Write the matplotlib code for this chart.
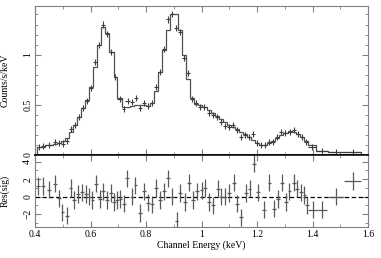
import numpy as np
import matplotlib
matplotlib.use("Agg")
import matplotlib.pyplot as plt
from matplotlib.ticker import MultipleLocator

plt.rcParams['font.family'] = ['Liberation Serif', 'DejaVu Serif']

# channel bin edges (keV)
bin_edges = [0.406, 0.420, 0.435, 0.464, 0.478, 0.493, 0.507, 0.522,
             0.537, 0.551, 0.566, 0.580, 0.595, 0.610, 0.624, 0.639, 0.653,
             0.668, 0.683, 0.697, 0.712, 0.726, 0.741, 0.756, 0.770, 0.785,
             0.799, 0.814, 0.829, 0.843, 0.858, 0.872, 0.887, 0.901, 0.916,
             0.930, 0.945, 0.960, 0.974, 0.989, 1.003, 1.018, 1.033, 1.047,
             1.062, 1.076, 1.091, 1.106, 1.120, 1.135, 1.149, 1.164, 1.179,
             1.193, 1.208, 1.222, 1.237, 1.252, 1.266, 1.281, 1.295, 1.310,
             1.325, 1.339, 1.354, 1.368, 1.383, 1.413, 1.455, 1.515, 1.575]

# model counts/s/keV per bin
model_counts = [0.083, 0.085, 0.100, 0.110, 0.120, 0.140, 0.170,
                0.230, 0.300, 0.380, 0.470, 0.550, 0.680, 0.880, 1.100, 1.280, 1.220,
                1.030, 0.780, 0.570, 0.480, 0.480, 0.490, 0.500, 0.500, 0.500, 0.490,
                0.520, 0.640, 0.830, 1.050, 1.250, 1.400, 1.400, 1.250, 1.000, 0.760,
                0.570, 0.510, 0.500, 0.480, 0.450, 0.420, 0.390, 0.360, 0.330, 0.300,
                0.280, 0.260, 0.230, 0.210, 0.180, 0.150, 0.120, 0.105, 0.100, 0.120,
                0.140, 0.170, 0.200, 0.220, 0.235, 0.230, 0.210, 0.180, 0.140,
                0.100, 0.043, 0.027, 0.033]

# observed counts/s/keV per bin
data_counts = [0.085, 0.088, 0.105, 0.130, 0.120, 0.115, 0.140,
               0.260, 0.300, 0.380, 0.470, 0.540, 0.670, 0.930, 1.100, 1.300, 1.210,
               1.030, 0.780, 0.560, 0.460, 0.540, 0.530, 0.570, 0.470, 0.520, 0.490,
               0.520, 0.680, 0.830, 1.060, 1.350, 1.400, 1.270, 1.230, 0.970, 0.820,
               0.560, 0.520, 0.480, 0.480, 0.420, 0.400, 0.380, 0.330, 0.290, 0.280,
               0.300, 0.250, 0.180, 0.200, 0.180, 0.210, 0.120, 0.100, 0.100, 0.130,
               0.130, 0.180, 0.230, 0.220, 0.230, 0.250, 0.210, 0.180, 0.130,
               0.080, 0.040, 0.027, 0.033]
data_err = 0.03

# residuals (sigma), narrow bins
res_energy = [0.412, 0.428, 0.451, 0.472, 0.487, 0.499, 0.514, 0.528, 0.541, 0.556,
              0.570, 0.583, 0.595, 0.607, 0.619, 0.634, 0.646, 0.660, 0.673, 0.685,
              0.696, 0.708, 0.720, 0.732, 0.748, 0.762, 0.778, 0.792, 0.807, 0.822,
              0.835, 0.849, 0.864, 0.879, 0.894, 0.910, 0.924, 0.940, 0.954,
              0.969, 0.984, 1.000, 1.014, 1.027, 1.041, 1.059, 1.071, 1.086, 1.099,
              1.116, 1.129, 1.143, 1.159, 1.173, 1.188, 1.203, 1.224, 1.245, 1.260,
              1.275, 1.290, 1.305, 1.317, 1.332, 1.345, 1.359, 1.371, 1.380]
res_value = [1.2, 1.2, 0.8, 1.5, -0.2, -1.8, -2.2, 1.0, -0.4, 0.3,
             0.5, 0.3, 0.0, -0.4, 1.5, -0.3, 0.6, -0.4, 0.4, -0.6,
             -0.4, -0.3, -0.8, 2.1, 0.0, 1.3, -1.9, 0.6, -0.7, -0.9,
             1.0, -0.4, 0.6, 2.1, 0.0, -2.8, 0.4, -0.6, 1.6,
             -0.4, 0.6, 0.7, 1.0, -0.6, -1.0, 0.9, 0.0, 0.0, 0.4,
             1.6, -0.8, -2.4, 0.4, 0.9, 3.8, 0.5, -1.5, 1.6, -1.4,
             -0.3, 1.6, -0.6, 0.6, 1.6, 0.9, 0.5, 0.2, -1.0]
# residuals, wide bins at high energy
res_wide_energy = [1.400, 1.436, 1.485, 1.545]
res_wide_half = [0.018, 0.018, 0.030, 0.030]
res_wide_value = [-1.5, -1.5, 0.0, 1.8]

xtick_vals = [0.4, 0.6, 0.8, 1.0, 1.2, 1.4, 1.6]
xtick_text = ['0.4', '0.6', '0.8', '1', '1.2', '1.4', '1.6']

edges = np.array(bin_edges)
centers = (edges[:-1] + edges[1:]) / 2
halfw = (edges[1:] - edges[:-1]) / 2

frame = '#808080'
fig = plt.figure(figsize=(3.81, 2.58), dpi=100)
ax1 = fig.add_axes([0.0919, 0.399, 0.874, 0.578])
ax2 = fig.add_axes([0.0919, 0.120, 0.874, 0.279], sharex=ax1)

ax1.stairs(model_counts, edges, color='#505050', lw=0.9)
ax1.errorbar(centers, data_counts, xerr=halfw, yerr=data_err, fmt='none',
             ecolor='#3c3c3c', elinewidth=0.8)

ax2.axhline(0, color='k', lw=0.9, ls=(0, (3.5, 2)))
ax2.errorbar(res_energy, res_value, xerr=0.007, yerr=1, fmt='none',
             ecolor='#5a5a5a', elinewidth=0.9)
ax2.errorbar(res_wide_energy, res_wide_value, xerr=res_wide_half, yerr=1,
             fmt='none', ecolor='#5a5a5a', elinewidth=0.9)

ax1.set_xlim(0.4, 1.6)
ax1.set_ylim(0, 1.485)
ax2.set_ylim(-3.5, 4.77)

for ax in (ax1, ax2):
    for s in ax.spines.values():
        s.set_color(frame)
        s.set_linewidth(0.8)
    ax.tick_params(which='both', direction='in', top=True, right=True,
                   color=frame, labelsize=7, pad=2)
    ax.tick_params(which='major', length=4)
    ax.tick_params(which='minor', length=2)
    ax.xaxis.set_minor_locator(MultipleLocator(0.1))
    ax.tick_params(axis='y', labelrotation=90)

ax1.spines['bottom'].set_color('k')
ax1.spines['bottom'].set_linewidth(1.1)
ax2.spines['top'].set_color('k')
ax2.spines['top'].set_linewidth(1.1)

ax1.set_yticks([0, 0.5, 1])
ax1.set_yticklabels(['0', '0.5', '1'], va='center')
ax1.yaxis.set_minor_locator(MultipleLocator(0.1))
ax1.tick_params(axis='x', labelbottom=False)

ax2.set_xticks(xtick_vals)
ax2.set_xticklabels(xtick_text)
ax2.set_yticks([-2, 0, 2, 4])
ax2.set_yticklabels(['\u22122', '0', '2', '4'], va='center')
ax2.yaxis.set_minor_locator(MultipleLocator(1))

ax1.set_ylabel('Counts/s/keV', fontsize=7)
ax1.yaxis.set_label_coords(-0.075, 0.5)
ax2.set_ylabel('Res(sig)', fontsize=7)
ax2.yaxis.set_label_coords(-0.075, 0.5)
ax2.set_xlabel('Channel Energy (keV)', fontsize=7, labelpad=1)

fig.savefig('out.png', dpi=100)
